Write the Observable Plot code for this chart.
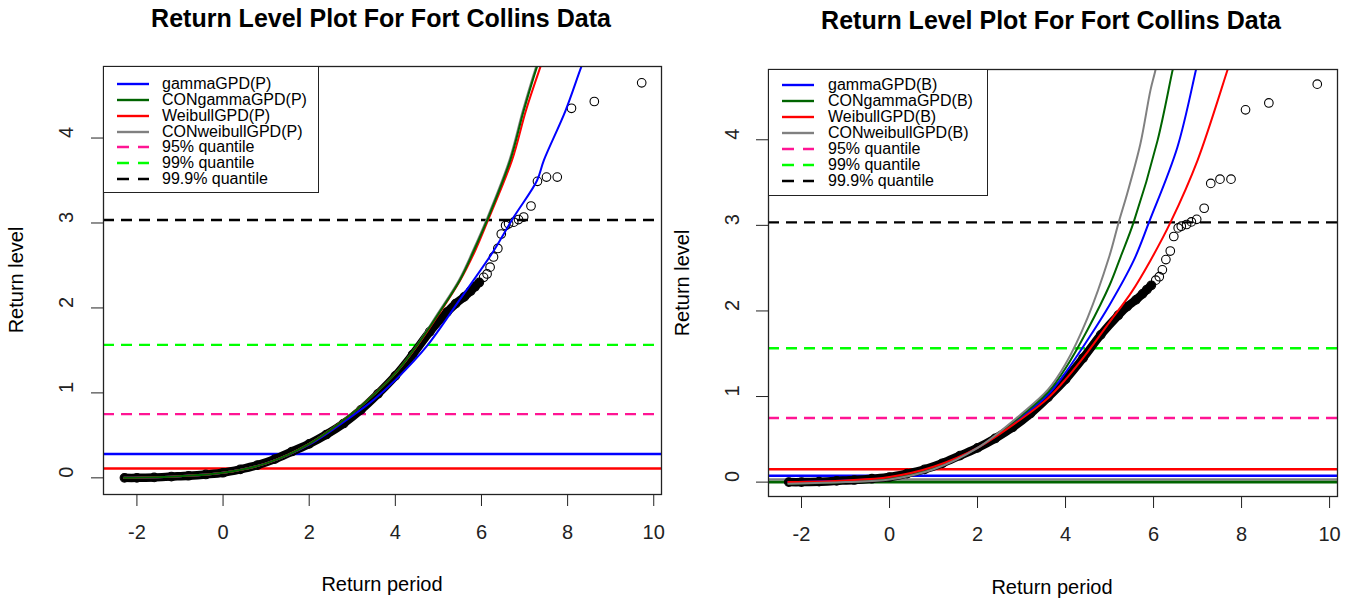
<!DOCTYPE html>
<html>
<head>
<meta charset="utf-8">
<script src="https://cdn.jsdelivr.net/npm/d3@7"></script>
<script src="https://cdn.jsdelivr.net/npm/@observablehq/plot@0.6"></script>
<style>
  body { margin: 0; background: #fff; font-family: "Liberation Sans", Arial, sans-serif; color: #000; }
  #root { position: relative; width: 1348px; height: 603px; overflow: hidden; background: #fff; }
  .panel { position: absolute; top: 0; width: 674px; height: 603px; }
  .lbl { position: absolute; white-space: nowrap; line-height: 1; transform: translate(-50%, -50%); }
  .title { font-weight: bold; font-size: 25px; }
  .axlab { font-size: 20px; }
  .rot { transform: translate(-50%, -50%) rotate(-90deg); }
  .legend { position: absolute; background: #fff; border: 1.3px solid #222; box-sizing: border-box; }
  .legend .row { position: absolute; left: 0; height: 16px; line-height: 16px; font-size: 16px; white-space: nowrap; }
  .legend svg { position: absolute; top: 0; }
</style>
</head>
<body>
<div id="root"></div>
<script>
// Empirical return levels (Fort Collins precipitation), shared by both panels
const obsPeriod = [-2.29, -2.0, -1.6, -1.2, -0.8, -0.4, 0.0, 0.4, 0.8, 1.2, 1.6, 2.0, 2.4, 2.8, 3.2, 3.6, 4.0, 4.4, 4.8, 5.2,
                   5.4, 5.6, 5.75, 5.85, 5.95, 6.05, 6.13, 6.2,
                   6.28, 6.38, 6.46, 6.56, 6.63, 6.75, 6.86, 6.98, 7.15, 7.30, 7.51, 7.76, 8.09, 8.62, 9.72];
const obsLevel  = [0.0, 0.0, 0.005, 0.015, 0.025, 0.04, 0.06, 0.1, 0.15, 0.22, 0.31, 0.40, 0.51, 0.64, 0.80, 0.99, 1.2, 1.45, 1.72, 1.95,
                   2.05, 2.13, 2.20, 2.25, 2.30, 2.36, 2.40, 2.48,
                   2.60, 2.70, 2.87, 2.97, 2.99, 3.01, 3.04, 3.07, 3.20, 3.49, 3.54, 3.54, 4.35, 4.43, 4.65];
// Last return period of the densely packed part of the sample
const denseLimit = 5.95;

// Quantile reference lines
const quantileNames  = ["95% quantile", "99% quantile", "99.9% quantile"];
const quantileLevels = [0.75, 1.565, 3.035];

// Model names and colours
const modelBase   = ["gammaGPD", "CONgammaGPD", "WeibullGPD", "CONweibullGPD"];
const modelColors = ["#0000ff", "#006400", "#ff0000", "#808080"];
const quantileColors = ["#ff1493", "#00ff00", "#000000"];

// Fitted return level curves, parametric (P) panel
const pGammaPeriod = [-2.3, -1, 0, 1, 2, 3, 3.5, 4, 4.74, 5.5, 6.28, 6.75, 7.29, 7.45, 7.95, 8.32, 8.45];
const pGammaLevel  = [0.0, 0.02, 0.06, 0.17, 0.39, 0.73, 0.92, 1.15, 1.556, 2.1, 2.67, 3.07, 3.5, 3.74, 4.32, 4.84, 5.0];
const pConGammaPeriod = [-2.3, -1, 0, 1, 2, 3, 3.5, 4, 4.5, 5.0, 5.5, 5.82, 6.13, 6.67, 6.98, 7.29, 7.4];
const pConGammaLevel  = [0.0, 0.02, 0.06, 0.17, 0.40, 0.76, 0.98, 1.23, 1.556, 1.93, 2.33, 2.67, 3.03, 3.74, 4.32, 4.84, 5.0];
const pWeibullPeriod = [-2.3, -1, 0, 1, 2, 3, 3.5, 4, 4.5, 5.0, 5.5, 5.85, 6.15, 6.71, 7.03, 7.37, 7.48];
const pWeibullLevel  = [0.0, 0.02, 0.06, 0.17, 0.40, 0.76, 0.98, 1.23, 1.55, 1.92, 2.32, 2.67, 3.03, 3.74, 4.32, 4.84, 5.0];
const pConWeibullPeriod = [-2.3, -1, 0, 1, 2, 3, 3.5, 4, 4.5, 4.98, 5.48, 5.8, 6.11, 6.65, 6.96, 7.27, 7.38];
const pConWeibullLevel  = [0.0, 0.02, 0.06, 0.17, 0.40, 0.76, 0.98, 1.23, 1.556, 1.93, 2.33, 2.67, 3.03, 3.74, 4.32, 4.84, 5.0];
// Thresholds drawn as solid horizontal lines, P panel
const pThresholdModels = ["gammaGPD", "WeibullGPD"];
const pThresholdLevels = [0.28, 0.11];

// Fitted return level curves, Bayesian (B) panel
const bGammaPeriod = [-2.3, -1, 0, 1, 2, 3, 3.6, 4.0, 4.5, 5.0, 5.55, 5.9, 6.54, 6.97, 7.05];
const bGammaLevel  = [0.0, 0.02, 0.05, 0.17, 0.40, 0.76, 1.02, 1.28, 1.66, 2.07, 2.59, 3.04, 3.91, 4.83, 5.0];
const bConGammaPeriod = [-2.3, -1, 0, 1, 2, 3, 3.6, 4.0, 4.5, 5.0, 5.25, 5.55, 6.09, 6.44, 6.52];
const bConGammaLevel  = [-0.02, 0.0, 0.04, 0.16, 0.40, 0.78, 1.05, 1.33, 1.78, 2.3, 2.63, 3.04, 3.99, 4.83, 5.0];
const bWeibullPeriod = [-2.3, -1, 0, 1, 2, 3, 3.6, 4.0, 4.5, 5.0, 5.5, 5.93, 6.39, 7.0, 7.69, 7.8];
const bWeibullLevel  = [0.0, 0.02, 0.06, 0.18, 0.40, 0.74, 0.98, 1.2, 1.52, 1.87, 2.22, 2.59, 3.04, 3.76, 4.83, 5.0];
const bConWeibullPeriod = [-2.3, -1, 0, 1, 2, 3, 3.6, 4.0, 4.5, 4.99, 5.21, 5.4, 5.7, 5.93, 6.05, 6.1];
const bConWeibullLevel  = [-0.02, 0.0, 0.03, 0.15, 0.40, 0.80, 1.08, 1.38, 1.92, 2.63, 3.04, 3.37, 3.95, 4.58, 4.83, 5.0];
const bThresholdModels = ["WeibullGPD", "gammaGPD", "CONweibullGPD", "CONgammaGPD"];
const bThresholdLevels = [0.15, 0.075, 0.03, 0.0];

const xTicks = [-2, 0, 2, 4, 6, 8, 10];
const yTicks = [0, 1, 2, 3, 4];

const colorOf = name => modelColors[modelBase.indexOf(name)];

function curveRows(pairs) {
  const rows = [];
  pairs.forEach(([model, periods, levels]) => {
    periods.forEach((p, i) => rows.push({model, color: colorOf(model), period: p, level: levels[i]}));
  });
  return rows;
}

function drawPanel({curves, thresholdModels, thresholdLevels, xDomain, yDomain, margin, yLabelDx}) {
  const obs = obsPeriod.map((p, i) => ({period: p, level: obsLevel[i]}));
  const dense = obs.filter(d => d.period <= denseLimit);
  const thresholds = thresholdModels.map((m, i) => ({color: colorOf(m), level: thresholdLevels[i]}));
  const quantiles = quantileLevels.map((q, i) => ({color: quantileColors[i], level: q}));
  const rows = curveRows(curves);
  return Plot.plot({
    width: 674,
    height: 603,
    marginLeft: margin[0], marginRight: margin[1], marginTop: margin[2], marginBottom: margin[3],
    x: {domain: xDomain, label: null},
    y: {domain: yDomain, label: null},
    color: {type: "identity"},
    style: {fontFamily: "Liberation Sans, Arial, sans-serif", background: "transparent"},
    marks: [
      Plot.ruleY(thresholds, {y: "level", stroke: "color", strokeWidth: 2.6}),
      Plot.ruleY(quantiles, {y: "level", stroke: "color", strokeWidth: 2.4, strokeDasharray: "11,7"}),
      Plot.line(dense, {x: "period", y: "level", stroke: "#000", strokeWidth: 8.5, curve: "catmull-rom"}),
      Plot.dot(obs, {x: "period", y: "level", r: 4.3, stroke: "#000", strokeWidth: 1.1, fill: "none"}),
      Plot.line(rows, {x: "period", y: "level", z: "model", stroke: "color", strokeWidth: 2, curve: "catmull-rom", clip: true}),
      Plot.frame({stroke: "#222", strokeWidth: 1.3}),
      Plot.axisX({ticks: xTicks, tickSize: 12, tickPadding: 18, fontSize: 20, tickFormat: d => String(d), stroke: "#222", fill: "#222"}),
      Plot.axisY({ticks: yTicks, tickSize: 12, tickFormat: () => "", stroke: "#222"}),
      Plot.text(yTicks, {y: d => d, text: d => String(d), frameAnchor: "left", dx: yLabelDx, rotate: -90, fontSize: 20, fill: "#222"})
    ]
  });
}

const root = document.getElementById("root");

function addPanel(left, plot) {
  const div = document.createElement("div");
  div.className = "panel";
  div.style.left = left + "px";
  div.appendChild(plot);
  root.appendChild(div);
}

function addLabel(text, x, y, cls) {
  const d = document.createElement("div");
  d.className = "lbl " + cls;
  d.style.left = x + "px";
  d.style.top = y + "px";
  d.textContent = text;
  root.appendChild(d);
}

function addLegend(left, top, width, height, suffix, rowTop, rowStep, textX) {
  const box = document.createElement("div");
  box.className = "legend";
  Object.assign(box.style, {left: left + "px", top: top + "px", width: width + "px", height: height + "px"});
  const entries = modelBase.map((m, i) => ({text: `${m}(${suffix})`, color: modelColors[i], dash: null}))
    .concat(quantileNames.map((q, i) => ({text: q, color: quantileColors[i], dash: "12,9"})));
  entries.forEach((e, i) => {
    const cy = rowTop + i * rowStep;
    const sw = document.createElementNS("http://www.w3.org/2000/svg", "svg");
    sw.setAttribute("width", 60);
    sw.setAttribute("height", 10);
    sw.style.left = "0px";
    sw.style.top = (cy - 5) + "px";
    const ln = document.createElementNS("http://www.w3.org/2000/svg", "line");
    ln.setAttribute("x1", 13); ln.setAttribute("x2", 45); ln.setAttribute("y1", 5); ln.setAttribute("y2", 5);
    ln.setAttribute("stroke", e.color); ln.setAttribute("stroke-width", 2.4);
    if (e.dash) ln.setAttribute("stroke-dasharray", e.dash);
    sw.appendChild(ln);
    box.appendChild(sw);
    const row = document.createElement("div");
    row.className = "row";
    row.style.left = textX + "px";
    row.style.top = (cy - 8) + "px";
    row.textContent = e.text;
    box.appendChild(row);
  });
  root.appendChild(box);
}

addPanel(0, drawPanel({
  curves: [
    ["CONweibullGPD", pConWeibullPeriod, pConWeibullLevel],
    ["gammaGPD", pGammaPeriod, pGammaLevel],
    ["WeibullGPD", pWeibullPeriod, pWeibullLevel],
    ["CONgammaGPD", pConGammaPeriod, pConGammaLevel]
  ],
  thresholdModels: pThresholdModels, thresholdLevels: pThresholdLevels,
  xDomain: [-2.776, 10.18], yDomain: [-0.196, 4.842],
  margin: [103, 13, 66, 109], yLabelDx: -37
}));

addPanel(674, drawPanel({
  curves: [
    ["gammaGPD", bGammaPeriod, bGammaLevel],
    ["CONgammaGPD", bConGammaPeriod, bConGammaLevel],
    ["WeibullGPD", bWeibullPeriod, bWeibullLevel],
    ["CONweibullGPD", bConWeibullPeriod, bConWeibullLevel]
  ],
  thresholdModels: bThresholdModels, thresholdLevels: bThresholdLevels,
  xDomain: [-2.75, 10.18], yDomain: [-0.168, 4.821],
  margin: [94, 11, 69, 107], yLabelDx: -36
}));

addLabel("Return Level Plot For Fort Collins Data", 381, 18, "title");
addLabel("Return Level Plot For Fort Collins Data", 1051, 20, "title");
addLabel("Return period", 382, 584, "axlab");
addLabel("Return period", 1052, 587, "axlab");
addLabel("Return level", 16, 280, "axlab rot");
addLabel("Return level", 682, 283, "axlab rot");

addLegend(103, 66, 216, 127, "P", 17, 15.85, 58);
addLegend(768, 69, 220, 127, "B", 15, 16, 59);
</script>
</body>
</html>
